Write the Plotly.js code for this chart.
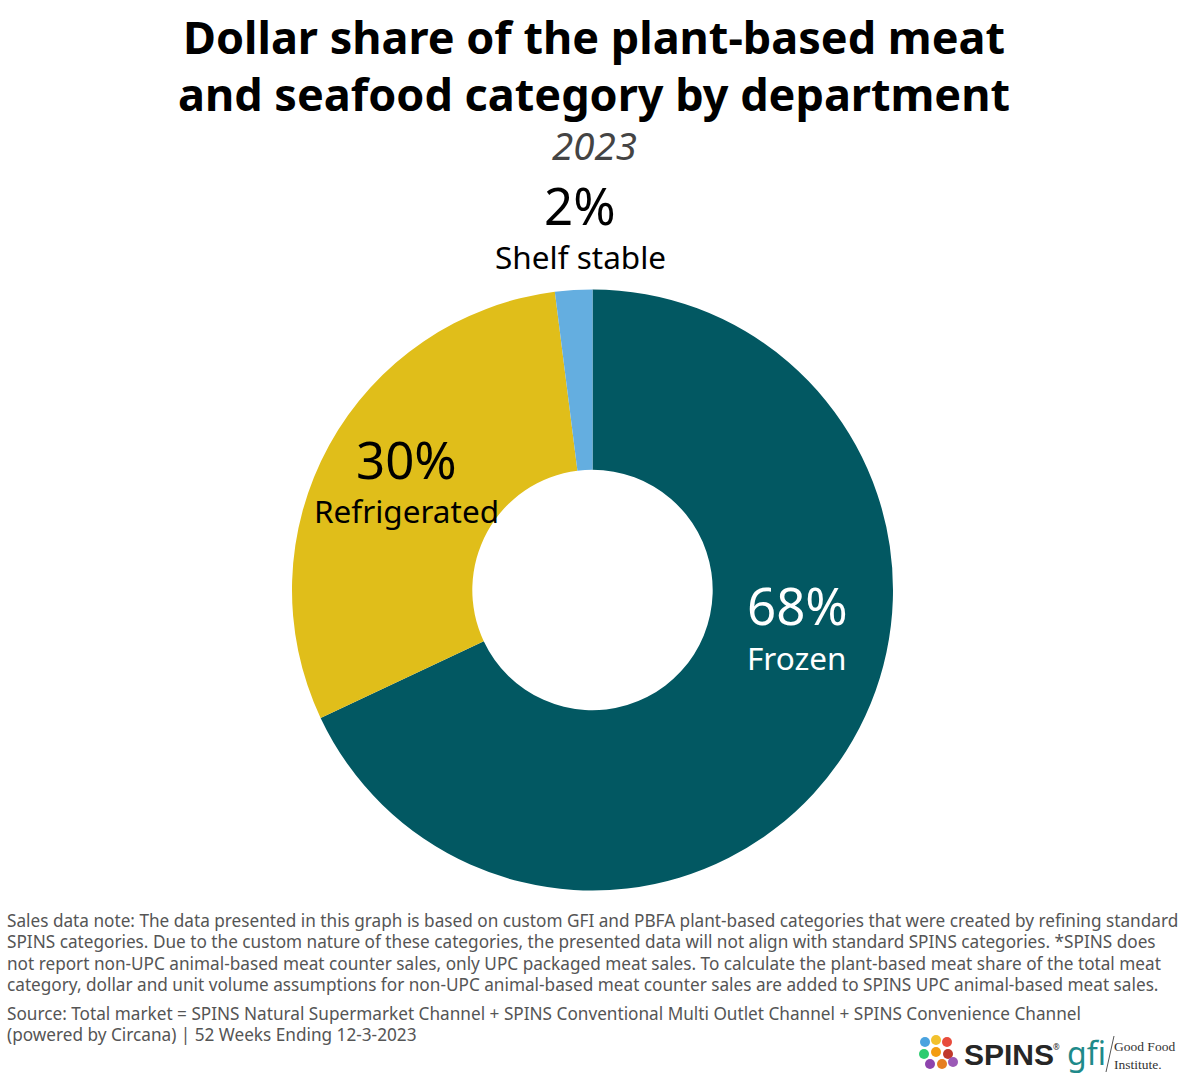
<!DOCTYPE html>
<html>
<head>
<meta charset="utf-8">
<script src="https://cdn.plot.ly/plotly-3.0.1.min.js"></script>
<style>html,body{margin:0;padding:0;background:#fff;}#chart{width:1188px;height:1080px;}</style>
</head>
<body>
<div id="chart"></div>
<script>
const departments = ["Frozen", "Refrigerated", "Shelf stable"];
const shares = [68, 30, 2];
const sliceColors = ["#025862", "#E0BE1A", "#64AEE0"];
const labelColors = ["#ffffff", "#000000", "#000000"];
const titleLines = ["Dollar share of the plant-based meat", "and seafood category by department"];
const subtitle = "2023";
const noteLines = [
  "Sales data note: The data presented in this graph is based on custom GFI and PBFA plant-based categories that were created by refining standard",
  "SPINS categories. Due to the custom nature of these categories, the presented data will not align with standard SPINS categories. *SPINS does",
  "not report non-UPC animal-based meat counter sales, only UPC packaged meat sales. To calculate the plant-based meat share of the total meat",
  "category, dollar and unit volume assumptions for non-UPC animal-based meat counter sales are added to SPINS UPC animal-based meat sales."
];
const sourceLines = [
  "Source: Total market = SPINS Natural Supermarket Channel + SPINS Conventional Multi Outlet Channel + SPINS Convenience Channel",
  "(powered by Circana) | 52 Weeks Ending 12-3-2023"
];

const W = 1188, H = 1080;
const px = x => x / W;
const py = y => 1 - y / H;
const FONT = "Noto Sans, DejaVu Sans, sans-serif";

// label anchor positions (pixel centres of the two-line labels)
const labelPos = [[797, 630], [406, 484], [580, 230]];

const annotations = [];
titleLines.forEach((t, i) => {
  annotations.push({
    xref: "paper", yref: "paper", x: px(594), y: py(37 + i * 57), xanchor: "center", yanchor: "middle",
    text: "<b>" + t + "</b>", showarrow: false, borderpad: 0,
    font: {family: FONT, size: 45, color: "#000000"}
  });
});
departments.forEach((d, i) => {
  const [cx, cy] = labelPos[i];
  annotations.push({
    xref: "paper", yref: "paper", x: px(cx), y: py(cy - 25), xanchor: "center", yanchor: "middle",
    text: shares[i] + "%", showarrow: false, borderpad: 0,
    font: {family: FONT, size: 51, color: labelColors[i]}
  });
  annotations.push({
    xref: "paper", yref: "paper", x: px(cx), y: py(cy + 27), xanchor: "center", yanchor: "middle",
    text: d, showarrow: false, borderpad: 0,
    font: {family: FONT, size: 31.5, color: labelColors[i]}
  });
});

annotations.push({
  xref: "paper", yref: "paper", x: px(594), y: py(145), xanchor: "center", yanchor: "middle",
  text: "<i>" + subtitle + "</i>", showarrow: false, borderpad: 0,
  font: {family: FONT, size: 38.5, color: "#444444"}
});

noteLines.forEach((t, i) => {
  annotations.push({
    xref: "paper", yref: "paper", x: px(6), y: py(920 + i * 21.5), xanchor: "left", yanchor: "middle",
    text: t, showarrow: false, borderpad: 0, font: {family: FONT, size: 17.2, color: "#555555"}
  });
});
sourceLines.forEach((t, i) => {
  annotations.push({
    xref: "paper", yref: "paper", x: px(6), y: py(1013 + i * 21.5), xanchor: "left", yanchor: "middle",
    text: t, showarrow: false, borderpad: 0, font: {family: FONT, size: 17.2, color: "#555555"}
  });
});

// logos as text
annotations.push({xref:"paper",yref:"paper",x:px(963),y:py(1054),xanchor:"left",yanchor:"middle",
  text:"<b>SPINS</b>",showarrow:false,borderpad:0,font:{family:"Liberation Sans, Arial, sans-serif",size:30,color:"#262626"}});
annotations.push({xref:"paper",yref:"paper",x:px(1052),y:py(1046),xanchor:"left",yanchor:"middle",
  text:"®",showarrow:false,borderpad:0,font:{family:FONT,size:8,color:"#262626"}});
annotations.push({xref:"paper",yref:"paper",x:px(1066),y:py(1052),xanchor:"left",yanchor:"middle",
  text:"gfi",showarrow:false,borderpad:0,font:{family:FONT,size:32,color:"#1f8a8a"}});
annotations.push({xref:"paper",yref:"paper",x:px(1113),y:py(1055),xanchor:"left",yanchor:"middle",
  text:"Good Food<br>Institute.",align:"left",showarrow:false,borderpad:0,font:{family:"Liberation Serif, serif",size:13.5,color:"#333"}});

const globe = [["#4aa3df",925,1042],["#f2c12e",936,1040],["#e84c3d",947,1042],["#2ecc71",924,1054],["#f39c12",936,1052],["#c0392b",948,1054],["#8e44ad",930,1064],["#e67e22",942,1064],["#9b59b6",953,1062]];
const shapes = [
  {type:"line",xref:"paper",yref:"paper",x0:px(1106),y0:py(1072),x1:px(1114),y1:py(1036),line:{color:"#555",width:1}}
];
globe.forEach(([c,x,y]) => shapes.push({type:"circle",xref:"paper",yref:"paper",x0:px(x-5),y0:py(y+5),x1:px(x+5),y1:py(y-5),fillcolor:c,line:{width:0}}));

const data = [{
  type: "pie",
  labels: departments,
  values: shares,
  marker: {colors: sliceColors, line: {width: 0}},
  hole: 0.4,
  sort: false,
  direction: "clockwise",
  rotation: 0,
  textinfo: "none",
  hoverinfo: "label+percent",
  showlegend: false,
  domain: {x: [px(292), px(893)], y: [py(890.5), py(289.5)]}
}];

const layout = {
  width: W, height: H,
  margin: {l: 0, r: 0, t: 0, b: 0},
  paper_bgcolor: "#ffffff",
  plot_bgcolor: "#ffffff",
  annotations: annotations,
  shapes: shapes
};

Plotly.newPlot("chart", data, layout, {displayModeBar: false, staticPlot: true});
</script>
</body>
</html>
